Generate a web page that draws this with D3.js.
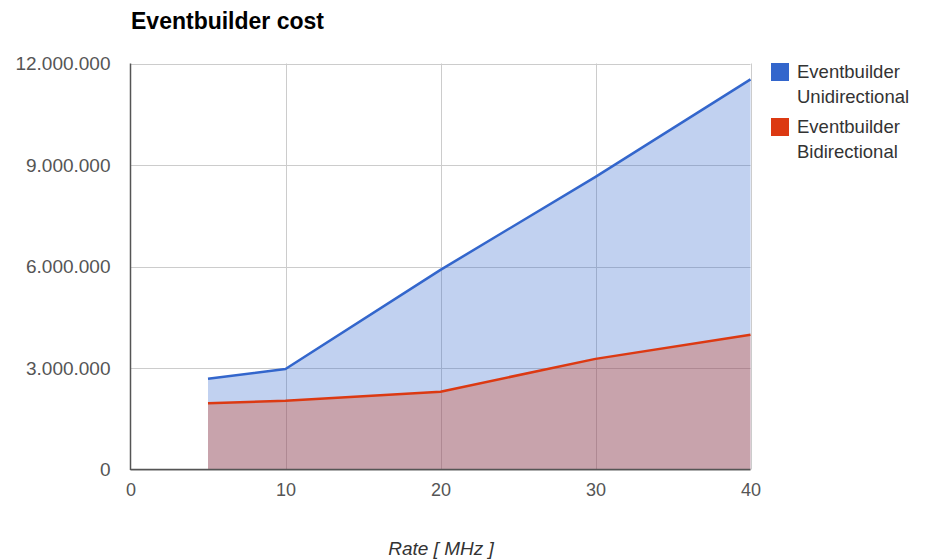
<!DOCTYPE html>
<html>
<head>
<meta charset="utf-8">
<script src="https://cdn.jsdelivr.net/npm/d3@7"></script>
<style>
  html, body { margin: 0; padding: 0; background: #fff; }
  svg { display: block; font-family: "Liberation Sans", Arial, sans-serif; }
</style>
</head>
<body>
<svg id="chart" width="927" height="559"></svg>
<script>
// Rate in MHz
const rates = [5, 10, 20, 30, 40];
// Event builder cost per configuration
const unidirectional = [2680000, 2970000, 5900000, 8650000, 11530000];
const bidirectional = [1960000, 2030000, 2300000, 3270000, 3980000];

const seriesNames = [["Eventbuilder", "Unidirectional"], ["Eventbuilder", "Bidirectional"]];
const seriesColors = ["#3366cc", "#dc3912"];
const xTicks = [0, 10, 20, 30, 40];
const yTicks = [0, 3000000, 6000000, 9000000, 12000000];

const svg = d3.select("#chart");
const plotLeft = 130.5, plotRight = 750.5, plotTop = 63.5, plotBottom = 469.5;

const x = d3.scaleLinear().domain([0, 40]).range([plotLeft, plotRight]);
const y = d3.scaleLinear().domain([0, 12000000]).range([plotBottom, plotTop]);

const fmt = v => d3.format(",")(v).replace(/,/g, ".");

// Gridlines
svg.append("g").selectAll("line").data(yTicks).join("line")
  .attr("x1", plotLeft).attr("x2", plotRight)
  .attr("y1", d => Math.round(y(d)) + 0.5).attr("y2", d => Math.round(y(d)) + 0.5)
  .attr("stroke", "#cccccc").attr("stroke-width", 1);
svg.append("g").selectAll("line").data(xTicks.slice(1)).join("line")
  .attr("x1", d => Math.round(x(d)) + 0.5).attr("x2", d => Math.round(x(d)) + 0.5)
  .attr("y1", plotTop).attr("y2", plotBottom)
  .attr("stroke", "#cccccc").attr("stroke-width", 1);

// Overlapping translucent areas with lines on top
const series = [unidirectional, bidirectional];
series.forEach((vals, i) => {
  const pts = rates.map((r, j) => [r, vals[j]]);
  const area = d3.area().x(d => x(d[0])).y0(y(0)).y1(d => y(d[1]));
  svg.append("path").datum(pts).attr("d", area)
    .attr("fill", seriesColors[i]).attr("fill-opacity", 0.3);
});
series.forEach((vals, i) => {
  const pts = rates.map((r, j) => [r, vals[j]]);
  const line = d3.line().x(d => x(d[0])).y(d => y(d[1]));
  svg.append("path").datum(pts).attr("d", line)
    .attr("fill", "none").attr("stroke", seriesColors[i]).attr("stroke-width", 2.5)
    .attr("stroke-linejoin", "round");
});

// Axis baselines
svg.append("line").attr("x1", plotLeft).attr("x2", plotLeft).attr("y1", plotTop).attr("y2", plotBottom + 0.5)
  .attr("stroke", "#555").attr("stroke-width", 1.5);
svg.append("line").attr("x1", plotLeft).attr("x2", plotRight).attr("y1", plotBottom).attr("y2", plotBottom)
  .attr("stroke", "#555").attr("stroke-width", 1.5);

// Y axis labels
const yAxis = d3.axisLeft(y).tickValues(yTicks).tickFormat(fmt).tickSize(0).tickPadding(20);
const gy = svg.append("g").attr("transform", `translate(${plotLeft},0)`).call(yAxis);
gy.select(".domain").remove();
gy.selectAll("text").attr("fill", "#555").style("font-size", "19px")
  .style("font-family", "'Liberation Sans', Arial, sans-serif");

// X axis labels
const xAxis = d3.axisBottom(x).tickValues(xTicks).tickFormat(d3.format("d")).tickSize(0).tickPadding(14);
const gx = svg.append("g").attr("transform", `translate(0,${plotBottom})`).call(xAxis);
gx.select(".domain").remove();
gx.selectAll("text").attr("fill", "#555").style("font-size", "18px")
  .style("font-family", "'Liberation Sans', Arial, sans-serif");

// Title
svg.append("text").attr("x", 131).attr("y", 29)
  .style("font-size", "23px").style("font-weight", "bold").attr("fill", "#000")
  .text("Eventbuilder cost");

// X axis title
svg.append("text").attr("x", 441).attr("y", 555).attr("text-anchor", "middle")
  .style("font-size", "19px").style("font-style", "italic").attr("fill", "#333")
  .text("Rate [ MHz ]");

// Legend
const legend = svg.append("g");
seriesNames.forEach((lines, i) => {
  const y0 = 63 + i * 55;
  legend.append("rect").attr("x", 771).attr("y", y0).attr("width", 18).attr("height", 18)
    .attr("fill", seriesColors[i]);
  lines.forEach((t, k) => {
    legend.append("text").attr("x", 797).attr("y", y0 + 15 + k * 25)
      .style("font-size", "18.5px").attr("fill", "#333").text(t);
  });
});
</script>
</body>
</html>
